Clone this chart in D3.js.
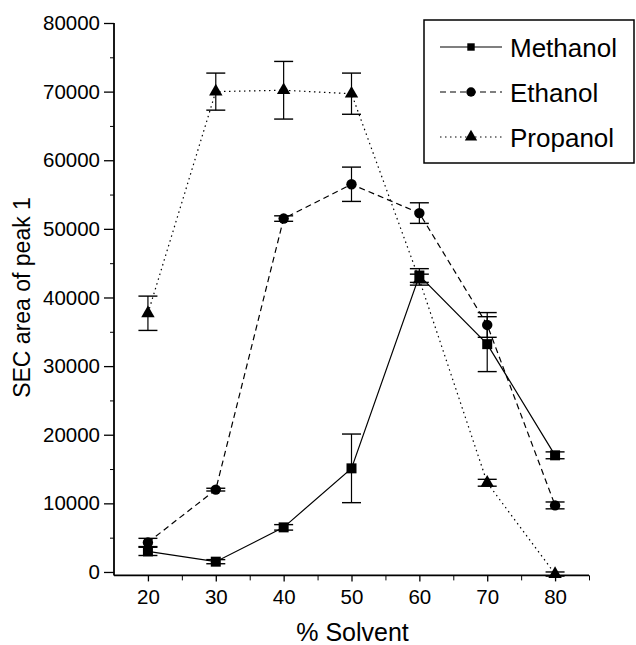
<!DOCTYPE html>
<html><head><meta charset="utf-8">
<script src="https://cdn.jsdelivr.net/npm/d3@7"></script>
<style>body{margin:0;background:#fff}svg{display:block}text{font-family:"Liberation Sans",Arial,sans-serif;fill:#000}</style>
</head><body>
<script>
const solvent = [20, 30, 40, 50, 60, 70, 80];
const methanol = [3000, 1500, 6500, 15100, 43200, 33200, 17000];
const methanolErr = [600, 300, 400, 5000, 1000, 4000, 500];
const ethanol = [4300, 12000, 51500, 56500, 52300, 36000, 9700];
const ethanolErr = [600, 200, 400, 2500, 1500, 1800, 500];
const propanol = [37700, 70000, 70200, 69700, 42600, 13000, -300];
const propanolErr = [2500, 2700, 4200, 3000, 800, 500, 300];
const yTicks = [0, 10000, 20000, 30000, 40000, 50000, 60000, 70000, 80000];
const xTicks = [20, 30, 40, 50, 60, 70, 80];
const seriesNames = ["Methanol", "Ethanol", "Propanol"];

const W = 636, H = 645;
const svg = d3.select("body").append("svg").attr("width", W).attr("height", H);
const x = d3.scaleLinear().domain([15, 85]).range([114, 589]);
const y = d3.scaleLinear().domain([-500, 80000]).range([575.4, 23]);

const series = [
  {name: seriesNames[0], vals: methanol, err: methanolErr, dash: null, sym: d3.symbolSquare, size: 100, lsize: 55},
  {name: seriesNames[1], vals: ethanol, err: ethanolErr, dash: "6,4", sym: d3.symbolCircle, size: 85, lsize: 70},
  {name: seriesNames[2], vals: propanol, err: propanolErr, dash: "1.5,3.5", sym: d3.symbolTriangle, size: 78, lsize: 66}
];

// axes
const yAxis = d3.axisLeft(y).tickValues(yTicks).tickSize(10).tickPadding(4).tickFormat(d3.format("d"));
const gy = svg.append("g").attr("transform", `translate(${x(15)},0)`).call(yAxis);
gy.select(".domain").remove();
gy.selectAll("text").style("font-size", "20.5px");
gy.selectAll("line").attr("stroke-width", 1.3);
const gyMinor = svg.append("g").attr("transform", `translate(${x(15)},0)`)
  .call(d3.axisLeft(y).tickValues(d3.range(5000, 80000, 10000)).tickSize(4).tickFormat(""));
gyMinor.select(".domain").remove();
svg.append("line").attr("x1", x(15)).attr("x2", x(15)).attr("y1", y(80000)).attr("y2", y(-500))
  .attr("stroke", "#000").attr("stroke-width", 1.8);

const xAxis = d3.axisBottom(x).tickValues(xTicks).tickSize(6).tickPadding(8);
const gx = svg.append("g").attr("transform", `translate(0,${y(-500)})`).call(xAxis);
gx.select(".domain").remove();
gx.selectAll("text").style("font-size", "20.5px");
gx.selectAll("line").attr("stroke-width", 1.3);
const gxMinor = svg.append("g").attr("transform", `translate(0,${y(-500)})`)
  .call(d3.axisBottom(x).tickValues(d3.range(25, 90, 10)).tickSize(5).tickFormat(""));
gxMinor.select(".domain").remove();
svg.append("line").attr("x1", x(15)).attr("x2", x(85)).attr("y1", y(-500)).attr("y2", y(-500))
  .attr("stroke", "#000").attr("stroke-width", 1.8);

// axis titles
svg.append("text").attr("transform", `translate(30,${(y(80000)+y(0))/2}) rotate(-90)`)
  .attr("text-anchor", "middle").style("font-size", "23px").text("SEC area of peak 1");
svg.append("text").attr("x", (x(15)+x(85))/2 + 1).attr("y", 641)
  .attr("text-anchor", "middle").style("font-size", "25px").text("% Solvent");

// series
const line = d3.line().x((d, i) => x(solvent[i])).y(d => y(d));
series.forEach(s => {
  svg.append("path").datum(s.vals).attr("d", line).attr("fill", "none")
    .attr("stroke", "#000").attr("stroke-width", 1.2).attr("stroke-dasharray", s.dash);
  const g = svg.append("g");
  s.vals.forEach((v, i) => {
    const cx = x(solvent[i]);
    const top = y(v + s.err[i]), bot = y(v - s.err[i]);
    g.append("line").attr("x1", cx).attr("x2", cx).attr("y1", top).attr("y2", bot).attr("stroke", "#000").attr("stroke-width", 1.2);
    [top, bot].forEach(yy => g.append("line").attr("x1", cx - 9.5).attr("x2", cx + 9.5).attr("y1", yy).attr("y2", yy).attr("stroke", "#000").attr("stroke-width", 1.4));
    g.append("path").attr("d", d3.symbol().type(s.sym).size(s.size)())
      .attr("transform", `translate(${cx},${y(v)})`).attr("fill", "#000");
  });
});

// legend
const lg = svg.append("g");
lg.append("rect").attr("x", 424).attr("y", 20).attr("width", 210).attr("height", 143)
  .attr("fill", "#fff").attr("stroke", "#000").attr("stroke-width", 1.5);
series.forEach((s, i) => {
  const ly = 47 + i * 45;
  lg.append("line").attr("x1", 440).attr("x2", 502).attr("y1", ly).attr("y2", ly)
    .attr("stroke", "#000").attr("stroke-width", 1.2).attr("stroke-dasharray", s.dash);
  lg.append("path").attr("d", d3.symbol().type(s.sym).size(s.lsize)())
    .attr("transform", `translate(471,${ly})`).attr("fill", "#000");
  lg.append("text").attr("x", 510).attr("y", ly + 9.5).style("font-size", "26px").text(s.name);
});
</script>
</body></html>
